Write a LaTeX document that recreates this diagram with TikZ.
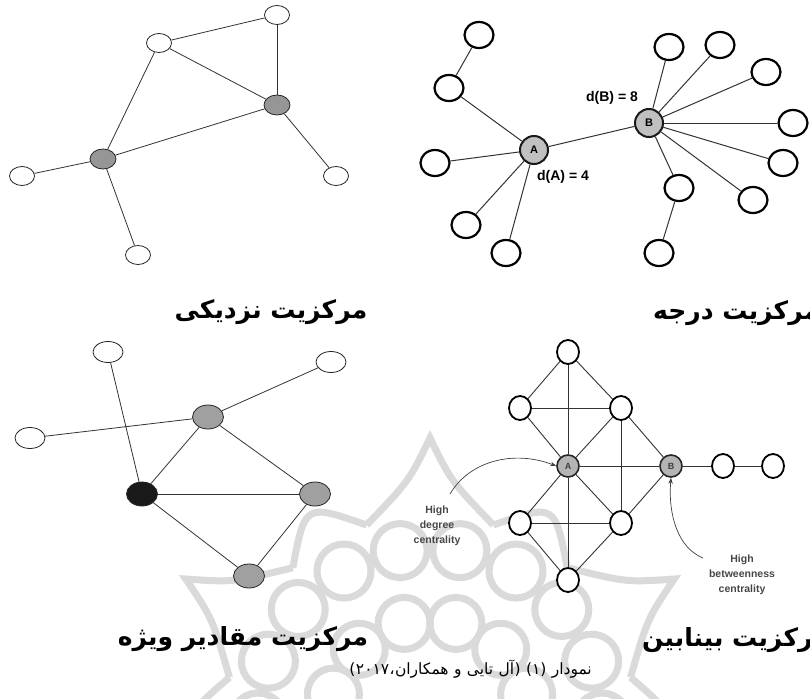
\documentclass[tikz,border=0pt]{standalone}
\usepackage{fontspec}
\setmainfont{Liberation Serif}
\newfontfamily\sansf{Liberation Sans}
\newfontfamily\fa[Script=Arabic]{DejaVu Sans}
\TeXXeTstate=1
\usetikzlibrary{shapes.geometric,arrows.meta,calc}
\definecolor{wmcol}{RGB}{218,218,218}
\definecolor{gA}{RGB}{150,150,150}
\definecolor{gE}{RGB}{160,160,160}
\definecolor{gD}{RGB}{192,192,192}
\definecolor{gB}{RGB}{180,180,180}
\definecolor{blk}{RGB}{25,25,25}
\begin{document}
\begin{tikzpicture}[x=1pt,y=-1pt,
  e1/.style={ellipse, draw=black!85, line width=0.8pt, fill=white, minimum width=25pt, minimum height=19pt, inner sep=0pt},
  g1/.style={e1, fill=gA, minimum width=26pt, minimum height=20pt},
  l1/.style={draw=black!80, line width=0.8pt},
  e2/.style={ellipse, draw=black, line width=2.2pt, fill=white, minimum width=29pt, minimum height=26pt, inner sep=0pt},
  c2/.style={circle, draw=black!90, line width=2pt, fill=gD, minimum size=28pt, inner sep=0pt, font=\sansf\bfseries\fontsize{11}{11}\selectfont},
  l2/.style={draw=black!80, line width=1pt},
  e3/.style={ellipse, draw=black!85, line width=0.8pt, fill=white, minimum width=30pt, minimum height=21pt, inner sep=0pt},
  g3/.style={e3, fill=gE, minimum width=31pt, minimum height=24pt},
  e4/.style={ellipse, draw=black, line width=1.8pt, fill=white, minimum width=22pt, minimum height=24pt, inner sep=0pt},
  c4/.style={circle, draw=black!85, line width=1.6pt, fill=gB, minimum size=22pt, inner sep=0pt, font=\sansf\bfseries\fontsize{9}{9}\selectfont, text=black!75},
  l4/.style={draw=black!80, line width=0.9pt},
  dlab/.style={font=\sansf\bfseries\fontsize{14}{14}\selectfont, inner sep=0pt},
  hlab/.style={font=\sansf\bfseries\fontsize{10.5}{15}\selectfont, text=black!72, align=center, inner sep=0pt},
  arr/.style={draw=black!75, line width=0.7pt, -{Stealth[length=6pt,width=4.5pt]}},
  title/.style={font=\fa\bfseries\fontsize{25}{26}\selectfont, inner sep=0pt},
  cp/.style={font=\fa\fontsize{15.5}{16}\selectfont, inner sep=0pt, anchor=base east},
  wm/.style={draw=wmcol, line width=7pt}
]
\useasboundingbox (0,0) rectangle (810,698);
\fill[white] (0,0) rectangle (810,698);

% watermark (y axis points down: angle 270 is up)
\coordinate (C) at (430,720);
\foreach \a in {0,20,...,340} \draw[wm] ($(C)+(\a:172)$) circle (27);
\foreach \a in {15,45,...,345} \draw[wm] ($(C)+(\a:100)$) circle (26);
\foreach \a in {210,270,330} {
  \pgfmathsetmacro{\la}{\a-18}
  \pgfmathsetmacro{\lb}{\a-5}
  \pgfmathsetmacro{\ra}{\a+18}
  \pgfmathsetmacro{\rb}{\a+5}
  \draw[wm] ($(C)+(\la:205)$) .. controls ($(C)+(\lb:240)$) .. ($(C)+(\a:282)$)
            .. controls ($(C)+(\rb:240)$) .. ($(C)+(\ra:205)$);
}
\foreach \a in {168,228,288,348} {
  \pgfmathsetmacro{\sa}{\a+24}
  \pgfmathsetmacro{\sm}{\a+12}
  \draw[wm] ($(C)+(\a:205)$) .. controls ($(C)+(\sm:250)$) .. ($(C)+(\sa:205)$);
}

% ---------- closeness (top left)
\node[e1] (c_tr) at (277,15) {};
\node[e1] (c_um) at (159,43) {};
\node[g1] (c_gr) at (277,105) {};
\node[g1] (c_gl) at (103,159) {};
\node[e1] (c_lf) at (22,176) {};
\node[e1] (c_rl) at (336,176) {};
\node[e1] (c_bt) at (138,255) {};
\draw[l1] (c_tr) -- (c_um);
\draw[l1] (c_tr) -- (c_gr);
\draw[l1] (c_um) -- (c_gr);
\draw[l1] (c_um) -- (c_gl);
\draw[l1] (c_gl) -- (c_gr);
\draw[l1] (c_gl) -- (c_lf);
\draw[l1] (c_gl) -- (c_bt);
\draw[l1] (c_gr) -- (c_rl);
\node[title] (t1) at (271,312) {\beginR مرکزیت نزدیکی\endR};

% ---------- degree (top right)
\node[c2] (dA) at (534,150) {A};
\node[c2] (dB) at (649,123) {B};
\node[e2] (d1) at (479,35) {};
\node[e2] (d2) at (449,88) {};
\node[e2] (d3) at (435,163) {};
\node[e2] (d4) at (466,225) {};
\node[e2] (d5) at (506,253) {};
\node[e2] (b1) at (669,47) {};
\node[e2] (b2) at (720,45) {};
\node[e2] (b3) at (766,72) {};
\node[e2] (b4) at (793,123) {};
\node[e2] (b5) at (783,163) {};
\node[e2] (b6) at (753,200) {};
\node[e2] (b7) at (679,188) {};
\node[e2] (b8) at (659,253) {};
\foreach \n in {d2,d3,d4,d5} \draw[l2] (dA) -- (\n);
\draw[l2] (d1) -- (d2);
\draw[l2] (dA) -- (dB);
\foreach \n in {b1,b2,b3,b4,b5,b6,b7} \draw[l2] (dB) -- (\n);
\draw[l2] (b7) -- (b8);
\node[dlab] (dBl) at (612,98) {d(B) = 8};
\node[dlab] (dAl) at (563,177) {d(A) = 4};
\node[title, anchor=west] (t2) at (653,313) {\beginR مرکزیت درجه\endR};

% ---------- eigenvector (bottom left)
\node[e3] (v_t) at (108,352) {};
\node[e3] (v_tr) at (331,362) {};
\node[e3] (v_l) at (30,438) {};
\node[g3] (v_g) at (208,417) {};
\node[g3, fill=blk] (v_k) at (142,494) {};
\node[g3] (v_r) at (315,494) {};
\node[g3] (v_b) at (249,576) {};
\draw[l1] (v_t) -- (v_k);
\draw[l1] (v_l) -- (v_g);
\draw[l1] (v_g) -- (v_tr);
\draw[l1] (v_g) -- (v_k);
\draw[l1] (v_g) -- (v_r);
\draw[l1] (v_k) -- (v_r);
\draw[l1] (v_k) -- (v_b);
\draw[l1] (v_r) -- (v_b);
\node[title] (t3) at (243,639) {\beginR مرکزیت مقادیر ویژه\endR};

% ---------- betweenness (bottom right)
\node[e4] (w_t) at (568,352) {};
\node[e4] (w_lu) at (520,408) {};
\node[e4] (w_ru) at (621,408) {};
\node[c4] (w_A) at (568,466) {A};
\node[c4] (w_B) at (671,466) {B};
\node[e4] (w_c1) at (723,466) {};
\node[e4] (w_c2) at (773,466) {};
\node[e4] (w_ll) at (520,523) {};
\node[e4] (w_rl) at (621,523) {};
\node[e4] (w_b) at (568,580) {};
\draw[l4] (w_t) -- (w_lu);
\draw[l4] (w_t) -- (w_ru);
\draw[l4] (w_t) -- (w_A);
\draw[l4] (w_lu) -- (w_ru);
\draw[l4] (w_lu) -- (w_A);
\draw[l4] (w_ru) -- (w_A);
\draw[l4] (w_ru) -- (w_B);
\draw[l4] (w_ru) -- (w_rl);
\draw[l4] (w_A) -- (w_B);
\draw[l4] (w_B) -- (w_c1);
\draw[l4] (w_c1) -- (w_c2);
\draw[l4] (w_A) -- (w_ll);
\draw[l4] (w_A) -- (w_rl);
\draw[l4] (w_A) -- (w_b);
\draw[l4] (w_ll) -- (w_rl);
\draw[l4] (w_ll) -- (w_b);
\draw[l4] (w_rl) -- (w_b);
\draw[l4] (w_rl) -- (w_B);
\node[hlab] (hd) at (437,526) {High\\degree\\centrality};
\node[hlab] (hb) at (742,575) {High\\betweenness\\centrality};
\coordinate (hdS) at (450,494);
\coordinate (hbS) at (703,558);
\draw[arr] (hdS) .. controls (470,460) and (515,450) .. (w_A.west);
\draw[arr] (hbS) .. controls (678,548) and (668,515) .. (w_B.south);
\node[title, anchor=west] (t4) at (642,640) {\beginR مرکزیت بینابین\endR};

% caption (pieces placed right to left, as printed)
\node[cp] (p1) at (592,674) {نمودار};
\node[cp] (p2) at ([xshift=-5pt]p1.base west) {(۱)};
\node[cp] (p3) at ([xshift=-5pt]p2.base west) {(};
\node[cp] (p4) at (p3.base west) {آل};
\node[cp] (p5) at ([xshift=-5pt]p4.base west) {تایی};
\node[cp] (p6) at ([xshift=-5pt]p5.base west) {و};
\node[cp] (p7) at ([xshift=-5pt]p6.base west) {همکاران};
\node[cp] (p8) at (p7.base west) {،};
\node[cp] (p9) at (p8.base west) {۲۰۱۷};
\node[cp] (p10) at (p9.base west) {)};
\end{tikzpicture}
\end{document}
